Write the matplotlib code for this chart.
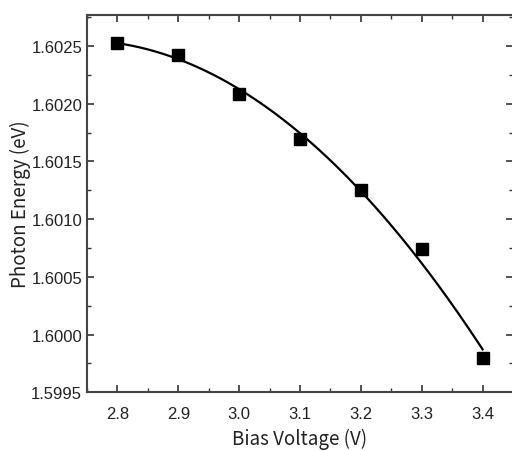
import matplotlib
matplotlib.use('Agg')
import matplotlib.pyplot as plt
import numpy as np
from matplotlib.ticker import MultipleLocator, FormatStrFormatter

# bias voltage (V) and measured photon energy (eV)
bias = [2.8, 2.9, 3.0, 3.1, 3.2, 3.3, 3.4]
energy = [1.60253, 1.60242, 1.60208, 1.60169, 1.60125, 1.60074, 1.59980]

# quadratic fit through the points
coef = np.polyfit(bias, energy, 2)
xfit = np.linspace(bias[0], bias[-1], 200)
yfit = np.polyval(coef, xfit)

plt.rcParams['font.family'] = ['Liberation Sans Narrow', 'Liberation Sans', 'DejaVu Sans']

fig = plt.figure(figsize=(5.12, 4.52), dpi=100)
ax = fig.add_axes([0.170, 0.130, 0.832, 0.835])

ax.plot(xfit, yfit, color='black', linewidth=1.6)
ax.plot(bias, energy, 's', color='black', markersize=8)

ax.set_xlim(2.75, 3.45)
ax.set_ylim(1.5995, 1.60277)
ax.xaxis.set_major_locator(MultipleLocator(0.1))
ax.xaxis.set_minor_locator(MultipleLocator(0.05))
ax.yaxis.set_major_locator(MultipleLocator(0.0005))
ax.yaxis.set_minor_locator(MultipleLocator(0.00025))
ax.xaxis.set_major_formatter(FormatStrFormatter('%.1f'))
ax.yaxis.set_major_formatter(FormatStrFormatter('%.4f'))

ax.tick_params(which='both', direction='in', top=True, right=True,
               colors='#333333', labelcolor='#222222', labelsize=12)
ax.tick_params(which='major', length=5, width=1.2)
ax.tick_params(axis='x', which='major', pad=10)
ax.tick_params(which='minor', length=3, width=1.0)
for s in ax.spines.values():
    s.set_linewidth(1.5)
    s.set_color('#444444')

lab_font = ['Noto Sans CJK JP', 'DejaVu Sans']
ax.set_xlabel('Bias Voltage (V)', fontsize=13.5, family=lab_font, color='#222222', va='center')
ax.set_ylabel('Photon Energy (eV)', fontsize=13.5, family=lab_font, color='#222222', va='center')
ax.xaxis.set_label_coords(0.50, -0.123)
ax.yaxis.set_label_coords(-0.157, 0.50)

fig.savefig('out.png', dpi=100)
